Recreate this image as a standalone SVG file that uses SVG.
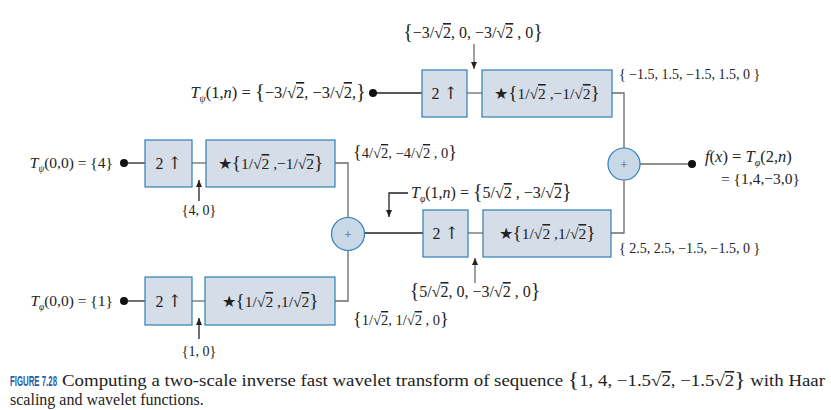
<svg xmlns="http://www.w3.org/2000/svg" width="831" height="410" viewBox="0 0 831 410">
<defs>
<style>
.box{fill:#d5dde9;stroke:#2f7fb5;stroke-width:1.2}
.sum{fill:#c8d8e6;stroke:#2f7fb5;stroke-width:1.2}
.ln{fill:none;stroke:#6b6b6b;stroke-width:1.3}
.lk{fill:none;stroke:#222;stroke-width:1.3}
.dot{fill:#111}
text{font-family:"Liberation Serif","Times New Roman",serif;font-size:14px;fill:#222}
.it{font-style:italic}
.ov{text-decoration:overline}
.br{font-size:1.25em}
.sub{font-size:0.6em;font-style:italic}
.bx{font-size:15.5px}
.up{font-size:16px}
.arr{font-family:"DejaVu Serif","DejaVu Sans",serif;font-size:17px}
.plus{font-size:13px;fill:#555}
.cap{font-size:16px}
.fig{font-family:"Liberation Sans",Arial,sans-serif;font-weight:bold;font-size:14px;fill:#1f5fa6}
</style>
<marker id="ah" markerWidth="8" markerHeight="8" refX="7" refY="4" orient="auto" markerUnits="userSpaceOnUse">
<path d="M0,1 L7,4 L0,7 Z" fill="#222"/>
</marker>
</defs>

<g id="connectors">
<path class="lk" d="M373,93 H422"/>
<path class="ln" d="M467,93 H482"/>
<path class="ln" d="M612,93 H624 V148"/>
<path class="ln" d="M474,44 V69" marker-end="url(#ah)"/>
<path class="ln" d="M640,164 H692"/>
<path class="lk" d="M364,233 H423"/>
<path class="ln" d="M468,233 H483"/>
<path class="ln" d="M611,233 H624 V180"/>
<path class="ln" d="M475,283 V258" marker-end="url(#ah)"/>
<path class="lk" d="M408,193 H389 V217" marker-end="url(#ah)"/>
<path class="lk" d="M124,163 H145"/>
<path class="ln" d="M192,163 H206"/>
<path class="ln" d="M335,163 H348 V217"/>
<path class="lk" d="M199,201 V180" marker-end="url(#ah)"/>
<path class="lk" d="M124,301 H145"/>
<path class="ln" d="M192,301 H205"/>
<path class="ln" d="M335,301 H348 V250"/>
<path class="lk" d="M199,339 V318" marker-end="url(#ah)"/>
</g>

<g id="in_top">
<text x="366" y="98" text-anchor="end" style="font-size:16.5px"><tspan class="it">T</tspan><tspan class="sub" dy="4">ψ</tspan><tspan dy="-4">(1,</tspan><tspan class="it">n</tspan>) = <tspan class="br">{</tspan>−3/√<tspan class="ov">2</tspan>, −3/√<tspan class="ov">2</tspan>,<tspan class="br">}</tspan></text>
<circle class="dot" cx="373" cy="93" r="4"/>
</g>
<g id="up_top">
<rect class="box" x="422" y="70" width="45" height="47"/>
<text class="up" x="444.5" y="99" text-anchor="middle">2 <tspan class="arr">↑</tspan></text>
</g>
<g id="filt_top">
<rect class="box" x="482" y="70" width="130" height="47"/>
<text class="bx" x="547" y="99" text-anchor="middle">★<tspan class="br">{</tspan>1/√<tspan class="ov">2</tspan> ,−1/√<tspan class="ov">2</tspan><tspan class="br">}</tspan></text>
</g>
<g id="lbl_top_in"><text x="473" y="38" text-anchor="middle" style="font-size:16px"><tspan class="br">{</tspan>−3/√<tspan class="ov">2</tspan>, 0, −3/√<tspan class="ov">2</tspan> , 0<tspan class="br">}</tspan></text></g>
<g id="lbl_top_out"><text x="619" y="79">{ −1.5, 1.5, −1.5, 1.5, 0 }</text></g>

<g id="sum_right">
<circle class="sum" cx="624" cy="164" r="16"/>
<text class="plus" x="624" y="168.5" text-anchor="middle">+</text>
</g>
<g id="out">
<circle class="dot" cx="692" cy="164" r="4"/>
<text x="705" y="162" style="font-size:16.5px"><tspan class="it">f</tspan>(<tspan class="it">x</tspan>) = <tspan class="it">T</tspan><tspan class="sub" dy="4">φ</tspan><tspan dy="-4">(2,</tspan><tspan class="it">n</tspan>)</text>
<text x="721" y="184" style="font-size:15.5px">= {1,4,−3,0}</text>
</g>

<g id="up_mid">
<rect class="box" x="423" y="210" width="45" height="47"/>
<text class="up" x="445.5" y="239" text-anchor="middle">2 <tspan class="arr">↑</tspan></text>
</g>
<g id="filt_mid">
<rect class="box" x="483" y="210" width="128" height="47"/>
<text class="bx" x="547" y="239" text-anchor="middle">★<tspan class="br">{</tspan>1/√<tspan class="ov">2</tspan> ,1/√<tspan class="ov">2</tspan><tspan class="br">}</tspan></text>
</g>
<g id="lbl_mid_T"><text x="411" y="198" style="font-size:16px"><tspan class="it">T</tspan><tspan class="sub" dy="4">φ</tspan><tspan dy="-4">(1,</tspan><tspan class="it">n</tspan>) = <tspan class="br">{</tspan>5/√<tspan class="ov">2</tspan> , −3/√<tspan class="ov">2</tspan><tspan class="br">}</tspan></text></g>
<g id="lbl_mid_in"><text x="475" y="297" text-anchor="middle" style="font-size:16px"><tspan class="br">{</tspan>5/√<tspan class="ov">2</tspan>, 0, −3/√<tspan class="ov">2</tspan> , 0<tspan class="br">}</tspan></text></g>
<g id="lbl_mid_out"><text x="619" y="253">{ 2.5, 2.5, −1.5, −1.5, 0 }</text></g>

<g id="sum_mid">
<circle class="sum" cx="348" cy="234" r="16.5"/>
<text class="plus" x="348" y="238.5" text-anchor="middle">+</text>
</g>

<g id="in_psi">
<text x="113" y="168" text-anchor="end" style="font-size:15.5px"><tspan class="it">T</tspan><tspan class="sub" dy="4">ψ</tspan><tspan dy="-4">(0,0) = {4}</tspan></text>
<circle class="dot" cx="124" cy="163" r="4"/>
</g>
<g id="up_lt">
<rect class="box" x="145" y="140" width="47" height="47"/>
<text class="up" x="168.5" y="169" text-anchor="middle">2 <tspan class="arr">↑</tspan></text>
</g>
<g id="filt_lt">
<rect class="box" x="206" y="140" width="129" height="47"/>
<text class="bx" x="270.5" y="169" text-anchor="middle">★<tspan class="br">{</tspan>1/√<tspan class="ov">2</tspan> ,−1/√<tspan class="ov">2</tspan><tspan class="br">}</tspan></text>
</g>
<g id="lbl_lt_in"><text x="199" y="215" text-anchor="middle">{4, 0}</text></g>
<g id="lbl_lt_out"><text x="353" y="158" style="font-size:14.5px"><tspan class="br">{</tspan>4/√<tspan class="ov">2</tspan>, −4/√<tspan class="ov">2</tspan> , 0<tspan class="br">}</tspan></text></g>

<g id="in_phi">
<text x="113" y="306" text-anchor="end" style="font-size:15.5px"><tspan class="it">T</tspan><tspan class="sub" dy="4">φ</tspan><tspan dy="-4">(0,0) = {1}</tspan></text>
<circle class="dot" cx="124" cy="301" r="4"/>
</g>
<g id="up_lb">
<rect class="box" x="145" y="277" width="47" height="48"/>
<text class="up" x="168.5" y="307" text-anchor="middle">2 <tspan class="arr">↑</tspan></text>
</g>
<g id="filt_lb">
<rect class="box" x="205" y="277" width="130" height="48"/>
<text class="bx" x="270" y="307" text-anchor="middle">★<tspan class="br">{</tspan>1/√<tspan class="ov">2</tspan> ,1/√<tspan class="ov">2</tspan><tspan class="br">}</tspan></text>
</g>
<g id="lbl_lb_in"><text x="199" y="356" text-anchor="middle">{1, 0}</text></g>
<g id="lbl_lb_out"><text x="353" y="325" style="font-size:14.5px"><tspan class="br">{</tspan>1/√<tspan class="ov">2</tspan>, 1/√<tspan class="ov">2</tspan> , 0<tspan class="br">}</tspan></text></g>

<g id="caption">
<text class="fig" transform="translate(10,386) scale(0.56,1)">FIGURE 7.28</text>
<text class="cap" x="62" y="386" textLength="763" lengthAdjust="spacingAndGlyphs">Computing a two-scale inverse fast wavelet transform of sequence <tspan class="br">{</tspan>1, 4, −1.5√<tspan class="ov">2</tspan>, −1.5√<tspan class="ov">2</tspan><tspan class="br">}</tspan> with Haar</text>
<text class="cap" x="10" y="405">scaling and wavelet functions.</text>
</g>
</svg>
